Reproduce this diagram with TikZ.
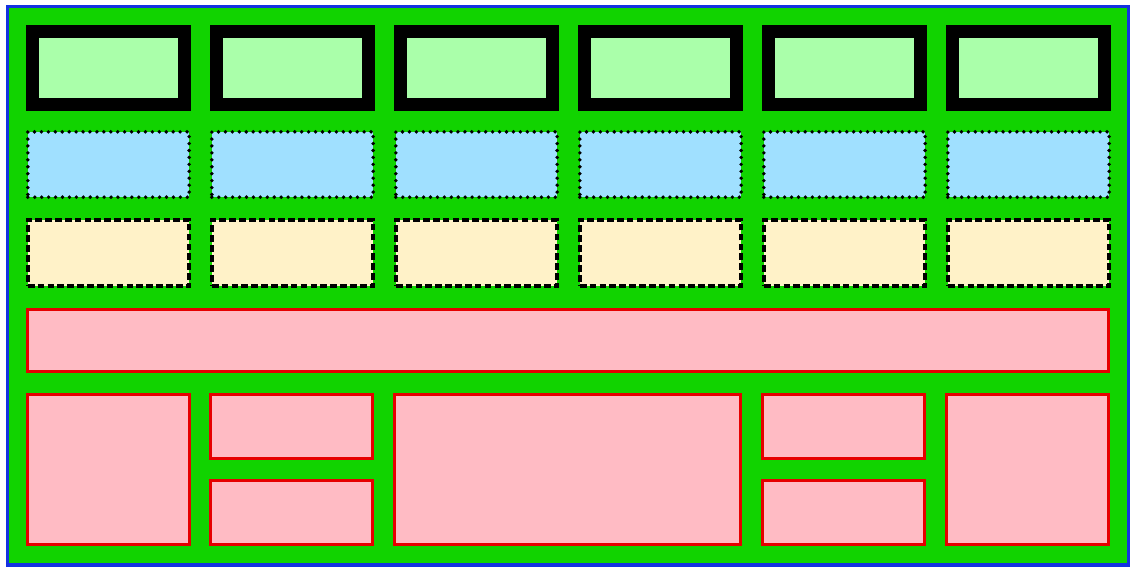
\documentclass[tikz,border=0pt]{standalone}
\definecolor{bggreen}{RGB}{17,211,0}
\definecolor{frameblue}{RGB}{20,50,225}
\definecolor{lightgreen}{RGB}{170,255,170}
\definecolor{lightblue}{RGB}{160,224,255}
\definecolor{lightyellow}{RGB}{255,242,200}
\definecolor{pinkfill}{RGB}{255,187,196}
\definecolor{redline}{RGB}{230,0,0}
\tikzset{
  thickbox/.style={draw=black, line width=9.75pt, fill=lightgreen, inner sep=0pt, minimum width=114pt, minimum height=55.125pt},
  dotbox/.style={draw=black, line width=2.9pt, fill=lightblue, inner sep=0pt, minimum width=121pt, minimum height=49pt, line cap=round, dash pattern=on 0pt off 5.2pt},
  dashbox/.style={draw=black, line width=2.8pt, fill=lightyellow, inner sep=0pt, minimum width=121pt, minimum height=49.75pt, dash pattern=on 5pt off 2.4pt},
  pinkbox/.style={draw=redline, line width=2.4pt, fill=pinkfill, inner sep=0pt},
}
\begin{document}
\begin{tikzpicture}[x=0.75pt,y=-0.75pt]
\useasboundingbox (0,0) rectangle (1138,574);
\path[fill=bggreen, draw=frameblue, line width=2.8pt] (7.5,6.5) rectangle (1128.5,565);
\foreach \i in {0,...,5}{
  \node[thickbox] (t\i) at (108.5+184*\i,68) {};
  \node[dotbox] (d\i) at (108.5+184*\i,164.5) {};
  \node[dashbox] (s\i) at (108.5+184*\i,253) {};
}
\node[pinkbox, minimum width=810.5pt, minimum height=46.3pt] (wide) at (568,340.5) {};
\node[pinkbox, minimum width=121.3pt, minimum height=112.3pt] (b1) at (108.5,469.5) {};
\node[pinkbox, minimum width=121.3pt, minimum height=47.8pt] (b2a) at (291.5,426.5) {};
\node[pinkbox, minimum width=121.3pt, minimum height=47.8pt] (b2b) at (291.5,512.5) {};
\node[pinkbox, minimum width=259.3pt, minimum height=112.3pt] (b3) at (567.5,469.5) {};
\node[pinkbox, minimum width=121.3pt, minimum height=47.8pt] (b4a) at (843.5,426.5) {};
\node[pinkbox, minimum width=121.3pt, minimum height=47.8pt] (b4b) at (843.5,512.5) {};
\node[pinkbox, minimum width=121.3pt, minimum height=112.3pt] (b5) at (1027.5,469.5) {};
\end{tikzpicture}
\end{document}
